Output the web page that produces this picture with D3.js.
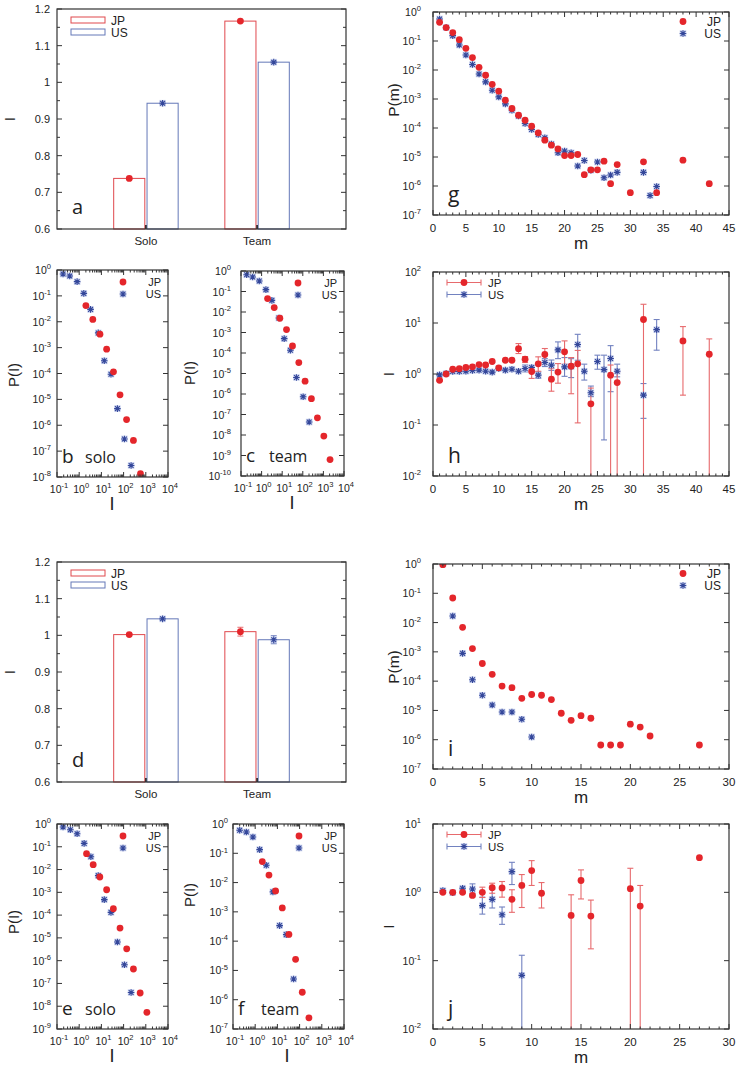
<!DOCTYPE html>
<html><head><meta charset="utf-8">
<script src="https://cdn.jsdelivr.net/npm/d3@7"></script>
<style>body{margin:0;background:#fff}</style>
</head><body>
<script>
// ================= DATA =================
const barCategories = ["Solo", "Team"];
const aJP = [0.738, 1.167], aJPerr = [0.003, 0.003];
const aUS = [0.943, 1.055], aUSerr = [0.003, 0.003];
const dJP = [1.002, 1.010], dJPerr = [0.003, 0.012];
const dUS = [1.045, 0.988], dUSerr = [0.004, 0.011];
const barTicks = [0.6, 0.7, 0.8, 0.9, 1.0, 1.1, 1.2];
const barTickLabels = ["0.6", "0.7", "0.8", "0.9", "1", "1.1", "1.2"];
const seriesNames = ["JP", "US"];

// panel b (solo)
const bJP_I = [2.0, 4.1, 8.6, 17.2, 35, 69, 136, 277, 576];
const bJP_P = [0.042, 0.0123, 3.3e-3, 8.7e-4, 1.16e-4, 1.5e-5, 1.66e-6, 2.6e-7, 1.35e-8];
const bUS_I = [0.187, 0.375, 0.805, 1.61, 3.24, 7.2, 13.5, 27, 52.6, 109, 218];
const bUS_P = [0.70, 0.586, 0.354, 0.125, 0.030, 3.7e-3, 3.1e-4, 9.4e-5, 4.4e-6, 2.96e-7, 2.8e-8];
// panel c (team)
const cJP_I = [1.95, 4.1, 7.7, 16.2, 31.6, 64, 129, 262, 512, 1050, 2100];
const cJP_P = [0.045, 0.0164, 4.95e-3, 1.39e-3, 2.2e-4, 3.4e-5, 4.2e-6, 5.9e-7, 6.9e-8, 8.9e-9, 6.3e-10];
const cUS_I = [0.188, 0.367, 0.77, 1.62, 3.16, 6.9, 12.5, 25, 49, 104, 204];
const cUS_P = [0.66, 0.51, 0.326, 0.123, 0.037, 5.1e-3, 5.0e-4, 1.37e-4, 6.4e-6, 7.3e-7, 4.3e-8];
// panel e (solo)
const eJP_I = [2.14, 4.27, 8.5, 17.2, 34.6, 69, 138, 277, 557, 1120];
const eJP_P = [0.050, 0.0163, 4.7e-3, 1.3e-3, 1.9e-4, 2.7e-5, 3.3e-6, 4.3e-7, 3.8e-8, 5.4e-9];
const eUS_I = [0.187, 0.40, 0.805, 1.67, 3.36, 7.2, 13.5, 27, 52.6, 109, 218];
const eUS_P = [0.74, 0.56, 0.376, 0.141, 0.0367, 5.4e-3, 4.8e-4, 1.32e-4, 6.6e-6, 6.6e-7, 4.0e-8];
// panel f (team)
const fJP_I = [2.09, 4.17, 8.3, 16.6, 33, 66, 132, 263];
const fJP_P = [0.052, 0.018, 5.2e-3, 1.36e-3, 1.7e-4, 2.4e-5, 1.8e-6, 2.4e-7];
const fUS_I = [0.2, 0.4, 0.79, 1.59, 3.16, 6.3, 12.6, 25, 53.7];
const fUS_P = [0.61, 0.53, 0.36, 0.133, 0.039, 4.8e-3, 3.4e-4, 1.67e-4, 5.1e-6];

// panel g
const gJP_m = [1,2,3,4,5,6,7,8,9,10,11,12,13,14,15,16,17,18,19,20,21,22,23,24,25,26,27,28,30,32,34,38,42];
const gJP_P = [0.44,0.29,0.195,0.111,0.056,0.0268,0.0124,6.6e-3,3.2e-3,1.86e-3,9.1e-4,4.7e-4,2.75e-4,1.85e-4,1.15e-4,6.8e-5,3.8e-5,2.55e-5,1.9e-5,1.12e-5,1.12e-5,1.22e-5,2.45e-6,3.6e-6,3.6e-6,7.2e-6,1.2e-6,5.5e-6,5.9e-7,6.8e-6,5.9e-7,7.8e-6,1.2e-6];
const gUS_m = [1,2,3,4,5,6,7,8,9,10,11,12,13,14,15,16,17,18,19,20,21,22,23,24,25,26,27,28,32,33,34];
const gUS_P = [0.574,0.29,0.153,0.073,0.033,0.0154,7.3e-3,3.9e-3,2.0e-3,1.18e-3,6.8e-4,4.1e-4,2.6e-4,1.43e-4,8.9e-5,6.0e-5,4.6e-5,2.8e-5,1.4e-5,1.6e-5,1.4e-5,4.9e-6,7.6e-6,3.5e-6,6.7e-6,1.93e-6,2.4e-6,2.95e-6,2.95e-6,4.7e-7,9.6e-7];

// panel h
const hJP_m  = [1,2,3,4,5,6,7,8,9,10,11,12,13,14,15,16,17,18,19,20,21,22,24,27,28,32,38,42];
const hJP_v  = [0.75,1.0,1.24,1.27,1.34,1.38,1.53,1.5,1.76,1.32,1.86,1.86,3.14,1.95,1.12,1.58,2.41,0.79,1.09,2.72,1.42,1.58,0.26,0.95,0.68,11.7,4.46,2.44];
const hJP_lo = [0.72,0.97,1.2,1.23,1.3,1.33,1.47,1.44,1.69,1.25,1.76,1.75,2.52,1.68,0.82,1.13,1.81,0.46,0.66,1.56,0.41,0.11,0.001,0.001,0.001,0.001,0.385,0.001];
const hJP_hi = [0.78,1.03,1.28,1.31,1.38,1.43,1.59,1.56,1.83,1.39,1.96,1.97,3.95,2.2,1.38,2.17,3.16,1.28,1.6,4.46,2.1,2.9,0.53,1.5,1.1,23.3,8.5,4.88];
const hUS_m  = [1,2,3,4,5,6,7,8,9,10,11,12,13,14,15,16,17,18,19,20,21,22,23,24,25,26,27,28,32,34];
const hUS_v  = [0.96,1.02,1.12,1.12,1.13,1.17,1.19,1.13,1.09,1.28,1.19,1.24,1.13,1.28,1.34,0.95,1.68,1.49,2.97,1.38,1.40,3.78,1.13,0.43,1.76,1.22,2.01,1.13,0.385,7.4];
const hUS_lo = [0.93,0.99,1.09,1.09,1.1,1.13,1.15,1.09,1.05,1.22,1.14,1.18,1.07,1.1,1.2,0.82,1.4,1.18,2.0,0.9,0.85,1.86,0.76,0.36,1.24,0.051,0.45,0.88,0.135,2.93];
const hUS_hi = [0.99,1.05,1.15,1.15,1.16,1.21,1.23,1.17,1.13,1.34,1.24,1.3,1.19,1.5,1.47,1.1,2.0,1.88,4.26,2.1,2.0,6.0,1.56,0.58,2.34,2.34,3.6,1.56,0.65,11.7];

// panel i
const iJP_m = [1,2,3,4,5,6,7,8,9,10,11,12,13,14,15,16,17,18,19,20,21,22,27];
const iJP_P = [0.95,0.069,6.9e-3,1.29e-3,4.0e-4,1.71e-4,6.8e-5,6.0e-5,2.6e-5,3.5e-5,3.3e-5,2.35e-5,8.0e-6,4.6e-6,6.6e-6,5.4e-6,6.6e-7,6.6e-7,6.6e-7,3.4e-6,2.7e-6,1.34e-6,6.6e-7];
const iUS_m = [1,2,3,4,5,6,7,8,9,10];
const iUS_P = [1.0,0.0168,8.9e-4,1.12e-4,3.3e-5,1.54e-5,8.8e-6,8.8e-6,5.0e-6,1.24e-6];

// panel j
const jJP_m  = [1,2,3,4,5,6,7,8,9,10,11,14,15,16,20,21,27];
const jJP_v  = [1.0,1.0,1.0,0.90,1.0,1.17,1.16,0.79,1.26,2.08,0.97,0.46,1.49,0.45,1.13,0.63,3.22];
const jJP_lo = [0.97,0.97,0.97,0.86,0.84,0.97,0.85,0.51,0.6,1.26,0.59,0.001,0.80,0.149,0.001,0.001,3.22];
const jJP_hi = [1.03,1.03,1.03,0.94,1.19,1.36,1.44,1.09,1.82,2.91,1.39,0.92,2.13,0.77,2.25,1.26,3.22];
const jUS_m  = [1,2,3,4,5,6,7,8,9];
const jUS_v  = [1.06,0.99,1.15,1.12,0.64,0.79,0.47,2.01,0.061];
const jUS_lo = [1.03,0.96,1.1,0.97,0.48,0.59,0.34,1.3,0.001];
const jUS_hi = [1.09,1.02,1.2,1.33,0.85,1.11,0.61,2.75,0.12];

// ================= DRAWING =================
const FONT = "'Liberation Sans', Arial, Helvetica, sans-serif";
const LFONT = "'Open Sans', 'Liberation Sans', sans-serif";
const RED = "#e4262b", BLUE = "#34479a", BLUEFILL = "#c3cdee";
const REDBAR = "#e0484d", BLUEBAR = "#6478b8";
const REDERR = "#e76a6d", BLUEERR = "#7282c0";
const AXC = "#333", TXT = "#222";

const svg = d3.select("body").append("svg")
  .attr("width", 739).attr("height", 1067)
  .style("font-family", FONT);
const defs = svg.append("defs");
let clipN = 0;
function clip(l, t, r, b) {
  const id = "clip" + (clipN++);
  defs.append("clipPath").attr("id", id).append("rect")
    .attr("x", l).attr("y", t).attr("width", r - l).attr("height", b - t);
  return "url(#" + id + ")";
}
function frame(l, t, r, b) {
  svg.append("rect").attr("x", l).attr("y", t).attr("width", r - l).attr("height", b - t)
    .attr("fill", "none").attr("stroke", AXC).attr("stroke-width", 1.2);
}
function line(x1, y1, x2, y2, col, w, g) {
  (g || svg).append("line").attr("x1", x1).attr("y1", y1).attr("x2", x2).attr("y2", y2)
    .attr("stroke", col).attr("stroke-width", w);
}
function yTicks(y, vals, len, l, r) {
  vals.forEach(v => { const yy = y(v); line(l, yy, l + len, yy, AXC, 1); line(r, yy, r - len, yy, AXC, 1); });
}
function xTicks(x, vals, len, t, b) {
  vals.forEach(v => { const xx = x(v); line(xx, b, xx, b - len, AXC, 1); line(xx, t, xx, t + len, AXC, 1); });
}
function powText(x, y, e, size, anchor) {
  const t = svg.append("text").attr("x", x).attr("y", y).attr("text-anchor", anchor)
    .attr("font-size", size).attr("fill", TXT);
  t.append("tspan").text("10");
  t.append("tspan").attr("dy", -size * 0.45).attr("font-size", size * 0.72).text(String(e));
  return t;
}
function text(x, y, s, size, anchor, opts) {
  const t = svg.append("text").attr("x", x).attr("y", y).attr("text-anchor", anchor || "start")
    .attr("font-size", size).attr("fill", TXT).text(s);
  if (opts && opts.rot) t.attr("transform", `rotate(-90 ${x} ${y})`);
  if (opts && opts.font) t.attr("font-family", opts.font);
  return t;
}
function circle(g, x, y) {
  g.append("circle").attr("cx", x).attr("cy", y).attr("r", 3.4).attr("fill", RED);
}
function star(g, x, y) {
  g.append("rect").attr("x", x - 3.3).attr("y", y - 3.3).attr("width", 6.6).attr("height", 6.6)
    .attr("fill", BLUEFILL).attr("opacity", 0.8);
  g.append("path").attr("d", `M${x-3.3},${y}H${x+3.3}M${x},${y-3.3}V${y+3.3}M${x-2.4},${y-2.4}L${x+2.4},${y+2.4}M${x-2.4},${y+2.4}L${x+2.4},${y-2.4}`)
    .attr("stroke", BLUE).attr("stroke-width", 1.1).attr("fill", "none");
}
function range(a, b) { const r = []; for (let i = a; i <= b; i++) r.push(i); return r; }

// ---------- Bar panels (a, d) ----------
function barPanel(t, b, jp, jpe, us, use, letter, letterY) {
  const l = 57, r = 346;
  const x = d3.scaleLinear().domain([-0.8, 1.8]).range([l, r]);
  const y = d3.scaleLinear().domain([0.6, 1.2]).range([b, t]);
  const g = svg.append("g");
  barCategories.forEach((c, i) => {
    g.append("rect").attr("x", x(i - 0.29)).attr("y", y(jp[i]))
      .attr("width", x(i - 0.01) - x(i - 0.29)).attr("height", y(0.6) - y(jp[i]))
      .attr("fill", "none").attr("stroke", REDBAR).attr("stroke-width", 1);
    g.append("rect").attr("x", x(i + 0.01)).attr("y", y(us[i]))
      .attr("width", x(i + 0.29) - x(i + 0.01)).attr("height", y(0.6) - y(us[i]))
      .attr("fill", "none").attr("stroke", BLUEBAR).attr("stroke-width", 1);
    const xj = x(i - 0.15), xu = x(i + 0.15);
    line(xj, y(jp[i] - jpe[i]), xj, y(jp[i] + jpe[i]), REDERR, 1, g);
    line(xj - 3, y(jp[i] - jpe[i]), xj + 3, y(jp[i] - jpe[i]), REDERR, 1, g);
    line(xj - 3, y(jp[i] + jpe[i]), xj + 3, y(jp[i] + jpe[i]), REDERR, 1, g);
    line(xu, y(us[i] - use[i]), xu, y(us[i] + use[i]), BLUEERR, 1, g);
    line(xu - 3, y(us[i] - use[i]), xu + 3, y(us[i] - use[i]), BLUEERR, 1, g);
    line(xu - 3, y(us[i] + use[i]), xu + 3, y(us[i] + use[i]), BLUEERR, 1, g);
    circle(g, xj, y(jp[i]));
    star(g, xu, y(us[i]));
    text(x(i), b + 16, c, 11.5, "middle");
    line(x(i), b, x(i), b - 4, "#111", 1.5);
  });
  frame(l, t, r, b);
  yTicks(y, barTicks, 5, l, r);
  yTicks(y, d3.range(0.65, 1.2, 0.1), 3, l, r);
  barTicks.forEach((v, i) => text(l - 7, y(v) + 4, barTickLabels[i], 11, "end"));
  text(15, (t + b) / 2, "I", 14, "middle", { rot: true });
  text(72, letterY, letter, 20, "start", { font: LFONT });
  const ly = t + 8;
  svg.append("rect").attr("x", 71).attr("y", ly).attr("width", 34).attr("height", 6)
    .attr("fill", "none").attr("stroke", REDBAR);
  svg.append("rect").attr("x", 71).attr("y", ly + 12).attr("width", 34).attr("height", 6)
    .attr("fill", "none").attr("stroke", BLUEBAR);
  text(111, ly + 7.5, seriesNames[0], 12);
  text(111, ly + 19.5, seriesNames[1], 12);
}
barPanel(9, 229, aJP, aJPerr, aUS, aUSerr, "a", 214);
barPanel(562, 782, dJP, dJPerr, dUS, dUSerr, "d", 767);

// ---------- P(I) panels (b,c,e,f) ----------
function distPanel(o) {
  const { l, r, t, b, yMinExp } = o;
  const x = d3.scaleLog().domain([0.1, 1e4]).range([l, r]);
  const y = d3.scaleLog().domain([Math.pow(10, yMinExp), 1]).range([b, t]);
  const g = svg.append("g").attr("clip-path", clip(l, t, r, b));
  o.usI.forEach((v, i) => star(g, x(v), y(o.usP[i])));
  o.jpI.forEach((v, i) => circle(g, x(v), y(o.jpP[i])));
  frame(l, t, r, b);
  const majX = range(-1, 4).map(e => Math.pow(10, e));
  const minX = [];
  range(-1, 3).forEach(e => range(2, 9).forEach(m => minX.push(m * Math.pow(10, e))));
  xTicks(x, majX, 5, t, b);
  xTicks(x, minX, 2.5, t, b);
  const majY = range(yMinExp, 0).map(e => Math.pow(10, e));
  yTicks(y, majY, 5, l, r);
  range(-1, 4).forEach(e => powText(x(Math.pow(10, e)) + 2, b + 16, e, 10.5, "middle"));
  range(yMinExp, 0).forEach(e => powText(l - o.yLabOff, y(Math.pow(10, e)) + 4, e, 10.5, "end"));
  text(o.yLabX, o.yLabY, "P(I)", 15, "middle", { rot: true });
  text(o.xLabX, b + 33, "I", 18, "middle");
  text(l + 5, b - 14, o.letter, 19, "start", { font: LFONT });
  text(l + 28, b - 14, o.word, 16, "start", { font: LFONT });
  circle(svg, o.legX, t + 12);
  star(svg, o.legX, t + 24);
  text(r - 7, t + 16, seriesNames[0], 11, "end");
  text(r - 7, t + 28, seriesNames[1], 11, "end");
}
distPanel({ l: 57, r: 168, t: 270, b: 477, yMinExp: -8, jpI: bJP_I, jpP: bJP_P, usI: bUS_I, usP: bUS_P,
  yLabOff: 6, yLabX: 19, yLabY: 375, xLabX: 112, letter: "b", word: "solo", legX: 123 });
distPanel({ l: 241, r: 344, t: 271, b: 476, yMinExp: -10, jpI: cJP_I, jpP: cJP_P, usI: cUS_I, usP: cUS_P,
  yLabOff: 10, yLabX: 195, yLabY: 373, xLabX: 292, letter: "c", word: "team", legX: 298 });
distPanel({ l: 57, r: 168, t: 824, b: 1029, yMinExp: -9, jpI: eJP_I, jpP: eJP_P, usI: eUS_I, usP: eUS_P,
  yLabOff: 6, yLabX: 19, yLabY: 922, xLabX: 112, letter: "e", word: "solo", legX: 123 });
distPanel({ l: 233, r: 344, t: 824, b: 1029, yMinExp: -7, jpI: fJP_I, jpP: fJP_P, usI: fUS_I, usP: fUS_P,
  yLabOff: 5, yLabX: 195, yLabY: 895, xLabX: 287, letter: "f", word: "team", legX: 299 });

// ---------- m panels (g,h,i,j) ----------
function mPanel(o) {
  const l = 433, r = 729, t = o.t, b = o.b;
  const x = d3.scaleLinear().domain([0, o.xMax]).range([l, r]);
  const y = d3.scaleLog().domain([Math.pow(10, o.yMin), Math.pow(10, o.yMax)]).range([b, t]);
  const g = svg.append("g").attr("clip-path", clip(l, t, r, b));
  const inDom = v => v >= Math.pow(10, o.yMin) * 0.999 && v <= Math.pow(10, o.yMax) * 1.001;
  function errs(ms, lo, hi, col) {
    ms.forEach((m, i) => {
      const xx = x(m);
      if (hi[i] === lo[i]) return;
      line(xx, y(Math.max(lo[i], 1e-6)), xx, y(hi[i]), col, 1.1, g);
      if (inDom(lo[i])) line(xx - 3, y(lo[i]), xx + 3, y(lo[i]), col, 1.1, g);
      if (inDom(hi[i])) line(xx - 3, y(hi[i]), xx + 3, y(hi[i]), col, 1.1, g);
    });
  }
  if (o.jpLo) { errs(o.usM, o.usLo, o.usHi, BLUEERR); errs(o.jpM, o.jpLo, o.jpHi, REDERR); }
  o.usM.forEach((m, i) => star(g, x(m), y(o.usV[i])));
  o.jpM.forEach((m, i) => circle(g, x(m), y(o.jpV[i])));
  frame(l, t, r, b);
  xTicks(x, d3.range(0, o.xMax + 1, 5), 5, t, b);
  xTicks(x, range(0, o.xMax).filter(v => v % 5 !== 0), 2.5, t, b);
  yTicks(y, range(o.yMin, o.yMax).map(e => Math.pow(10, e)), 5, l, r);
  d3.range(0, o.xMax + 1, 5).forEach(v => text(x(v), b + 17, String(v), 11.5, "middle"));
  range(o.yMin, o.yMax).forEach(e => powText(421, y(Math.pow(10, e)) + 4, e, 10.5, "end"));
  text(581, b + 34, "m", 17, "middle");
  if (o.ylab === "I") text(394, (t + b) / 2, "I", 14, "middle", { rot: true });
  else text(399, o.ylabY, "P(m)", 15.5, "middle", { rot: true });
  text(448, b - 13, o.letter, 21, "start", { font: LFONT });
  if (o.jpLo) {
    [[t + 10.5, 0], [t + 22.5, 1]].forEach(([ly, k]) => {
      const col = k === 0 ? REDERR : BLUEERR;
      line(447, ly, 481, ly, col, 1.1);
      line(447, ly - 3, 447, ly + 3, col, 1.1);
      line(481, ly - 3, 481, ly + 3, col, 1.1);
      if (k === 0) circle(svg, 464, ly); else star(svg, 464, ly);
      text(488, ly + 4, seriesNames[k], 11.5);
    });
  } else {
    circle(svg, 683, t + 9.5);
    star(svg, 683, t + 21.5);
    text(721, t + 14, seriesNames[0], 12, "end");
    text(721, t + 26, seriesNames[1], 12, "end");
  }
}
mPanel({ t: 12, b: 215, xMax: 45, yMin: -7, yMax: 0, jpM: gJP_m, jpV: gJP_P, usM: gUS_m, usV: gUS_P,
  ylab: "P", ylabY: 100, letter: "g" });
mPanel({ t: 272, b: 476, xMax: 45, yMin: -2, yMax: 2, jpM: hJP_m, jpV: hJP_v, jpLo: hJP_lo, jpHi: hJP_hi,
  usM: hUS_m, usV: hUS_v, usLo: hUS_lo, usHi: hUS_hi, ylab: "I", letter: "h" });
mPanel({ t: 564, b: 769, xMax: 30, yMin: -7, yMax: 0, jpM: iJP_m, jpV: iJP_P, usM: iUS_m, usV: iUS_P,
  ylab: "P", ylabY: 667, letter: "i" });
mPanel({ t: 824, b: 1029, xMax: 30, yMin: -2, yMax: 1, jpM: jJP_m, jpV: jJP_v, jpLo: jJP_lo, jpHi: jJP_hi,
  usM: jUS_m, usV: jUS_v, usLo: jUS_lo, usHi: jUS_hi, ylab: "I", letter: "j" });
</script>
</body></html>
